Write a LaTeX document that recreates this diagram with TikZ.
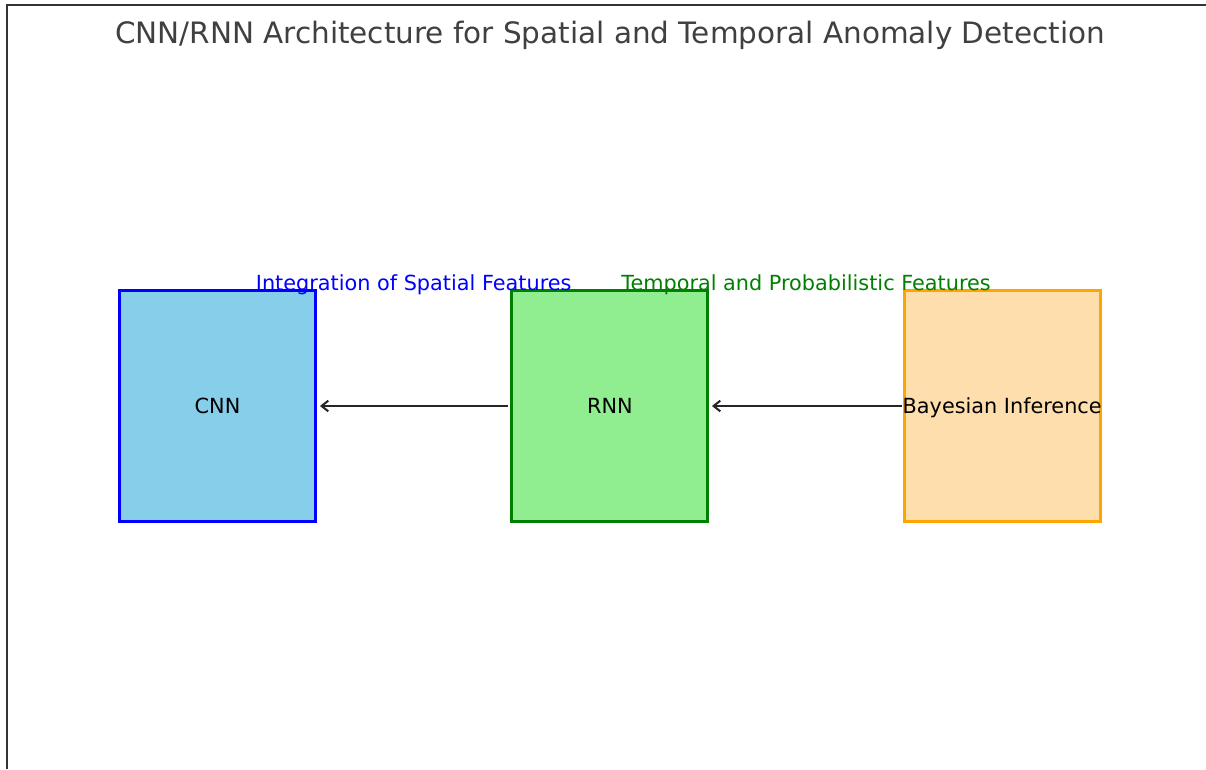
\documentclass[tikz,border=0pt]{standalone}
\usepackage{fontspec}
\setmainfont{DejaVu Sans}
\usepackage{xcolor}
\usetikzlibrary{arrows.meta,positioning,calc}
\definecolor{SkyFill}{RGB}{135,206,235}
\definecolor{MintFill}{RGB}{144,238,144}
\definecolor{PeachFill}{RGB}{255,222,173}
\definecolor{DeepGreen}{RGB}{0,128,0}
\definecolor{Amber}{RGB}{255,165,0}
\definecolor{TitleGray}{RGB}{64,64,64}

\begin{document}
\begin{tikzpicture}[x=0.75pt, y=-0.75pt, node distance=145pt,
  every node/.style={font=\fontsize{15.6}{18}\selectfont},
  block/.style={draw, line width=2.25pt, minimum width=147pt, minimum height=173.25pt, inner sep=0pt, text depth=0pt},
  conn/.style={-{Straight Barb[length=5pt,width=8pt]}, line width=1.5pt, black!85}]
\useasboundingbox (0,0) rectangle (1206,769);
\draw[line width=1.5pt, black!80] (7,769) -- (7,5) -- (1206,5);
\node[font=\fontsize{22.1}{26}\selectfont, text=TitleGray] (title) at (610,35.5) {CNN/RNN Architecture for Spatial and Temporal Anomaly Detection};
\node[block, fill=SkyFill, draw=blue] (cnn) at (217.5,406) {CNN};
\node[block, fill=MintFill, draw=DeepGreen, right=of cnn] (rnn) {RNN};
\node[block, fill=PeachFill, draw=Amber, right=of rnn] (bayes) {\makebox[0pt]{Bayesian Inference}};
\node[text=blue] (spatial) at ($(cnn.north)!0.5!(rnn.north)+(0,-4)$) {Integration of Spatial Features};
\node[text=DeepGreen] (temporal) at ($(rnn.north)!0.5!(bayes.north)+(0,-4)$) {Temporal and Probabilistic Features};
\draw[conn, shorten <=1.5pt, shorten >=2.25pt] (rnn) -- (cnn);
\draw[conn, shorten <=0.75pt, shorten >=2pt] (bayes) -- (rnn);
\end{tikzpicture}
\end{document}
